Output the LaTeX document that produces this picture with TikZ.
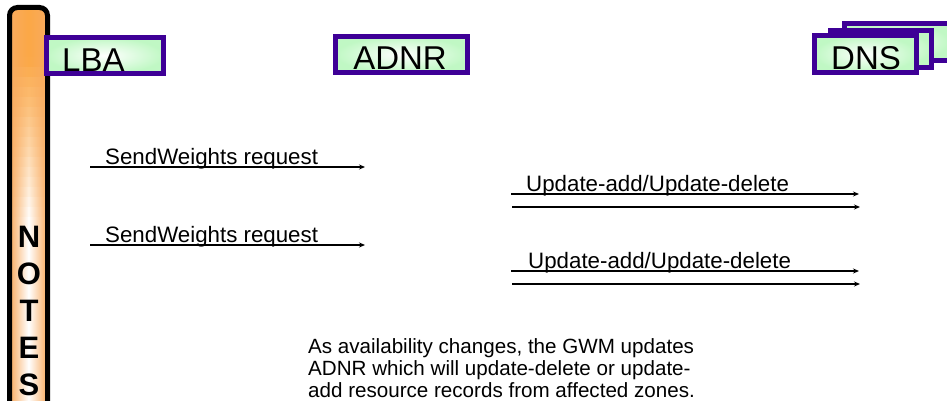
\documentclass[tikz,border=0pt]{standalone}
\usepackage{fontspec}
\setmainfont{Liberation Sans}
\usetikzlibrary{arrows.meta}
\definecolor{purp}{RGB}{62,0,150}
\definecolor{lgreen}{RGB}{192,248,196}
\definecolor{orng}{RGB}{251,168,70}
\definecolor{orngedge}{RGB}{248,170,95}
\tikzset{
  ent/.style={draw=purp, line width=5pt, inner color=white, outer color=lgreen, inner sep=0pt},
  enttext/.style={font=\fontsize{33}{36}\selectfont, inner sep=0pt, anchor=base west},
  msg/.style={line width=1.8pt, -{Stealth[length=6pt,width=5pt]}},
  msgtext/.style={font=\fontsize{22.3}{24}\selectfont, inner sep=0pt, anchor=base west},
  noteletter/.style={font=\fontsize{31}{34}\selectfont\bfseries, inner sep=0pt, anchor=base},
}
\begin{document}
\begin{tikzpicture}[x=1pt,y=-1pt]
\useasboundingbox (0,0) rectangle (947,401);
% NOTES bar
\begin{scope}
\clip[rounded corners=8pt] (9.5,420) -- (9.5,7.5) -- (47.5,7.5) -- (47.5,420) -- cycle;
\foreach \i in {0,...,41} {
  \pgfmathsetmacro{\ya}{7.5+10*\i}
  \pgfmathsetmacro{\yb}{\ya+10.6}
  \pgfmathtruncatemacro{\w}{min(100,max(0,(\ya-55)/1.6))}
  \shade[left color=orngedge, right color=orngedge, middle color=white!\w!orng]
    (9.5,\ya) rectangle (47.5,\yb);
}
\end{scope}
\draw[line width=5pt, rounded corners=8pt] (9.5,420) -- (9.5,7.5) -- (47.5,7.5) -- (47.5,420);
\node[noteletter] (nN) at (29,247) {N};
\node[noteletter] (nO) at (29,284) {O};
\node[noteletter] (nT) at (29,321) {T};
\node[noteletter] (nE) at (29,358) {E};
\node[noteletter] (nS) at (29,395) {S};
% entity boxes
\node[ent, minimum width=117pt, minimum height=36pt] (lba) at (105,55.5) {};
\node[enttext] (lbat) at (62,72) {LBA};
\node[ent, minimum width=132pt, minimum height=36pt] (adnr) at (401.5,54.5) {};
\node[enttext, anchor=base] (adnrt) at (400,70) {ADNR};
\node[ent, minimum width=105pt, minimum height=37pt] (dns3) at (897,42) {};
\node[ent, minimum width=101pt, minimum height=37pt] (dns2) at (881,49) {};
\node[ent, minimum width=102pt, minimum height=37pt] (dns) at (865.5,54) {};
\node[enttext, anchor=base] (dnst) at (866,70) {DNS};
% messages
\coordinate (sw1a) at (90,167); \coordinate (sw1b) at (365,167);
\coordinate (sw2a) at (90,245); \coordinate (sw2b) at (365,245);
\coordinate (u1a) at (511,194); \coordinate (u1b) at (859,194);
\coordinate (u2a) at (512,207); \coordinate (u2b) at (860,207);
\coordinate (u3a) at (511,271); \coordinate (u3b) at (859,271);
\coordinate (u4a) at (512,284); \coordinate (u4b) at (860,284);
\draw[msg] (sw1a) -- (sw1b);
\draw[msg] (sw2a) -- (sw2b);
\draw[msg] (u1a) -- (u1b);
\draw[msg] (u2a) -- (u2b);
\draw[msg] (u3a) -- (u3b);
\draw[msg] (u4a) -- (u4b);
\node[msgtext] (sw1t) at (105,164) {SendWeights request};
\node[msgtext] (sw2t) at (105,242) {SendWeights request};
\node[msgtext] (u1t) at (526,191) {Update-add/Update-delete};
\node[msgtext] (u2t) at (528,268) {Update-add/Update-delete};
% note
\node[anchor=north west, inner sep=0pt, align=left, font=\fontsize{20.6}{22}\selectfont] (note) at (308,338)
  {As availability changes, the GWM updates\\ADNR which will update-delete or update-\\add resource records from affected zones.};
\end{tikzpicture}
\end{document}
